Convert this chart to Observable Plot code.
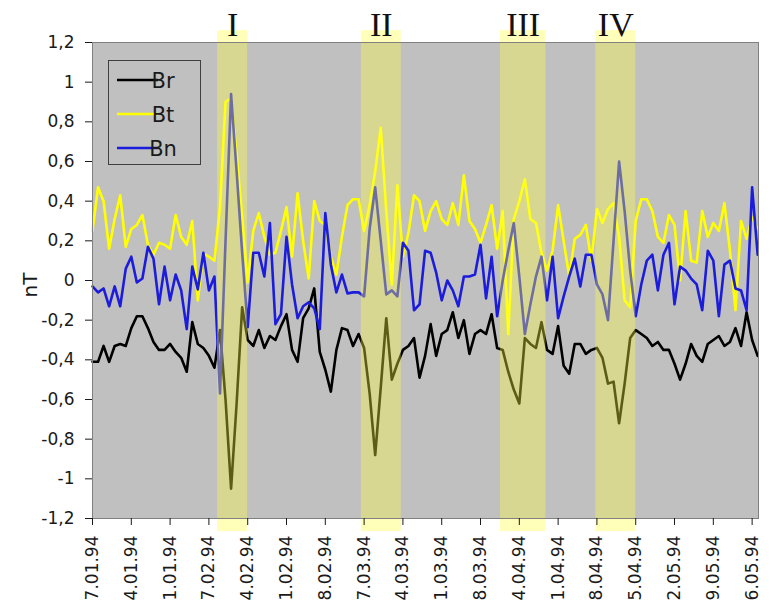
<!DOCTYPE html>
<html><head><meta charset="utf-8">
<script src="https://cdn.jsdelivr.net/npm/d3@7"></script>
<script src="https://cdn.jsdelivr.net/npm/@observablehq/plot@0.6"></script>
<style>
html,body{margin:0;padding:0;background:#fff;}
#chart{width:769px;height:606px;overflow:hidden;}
</style></head><body><div id="chart"></div>
<script>
const tickLabels = ["7.01.94","4.01.94","1.01.94","7.02.94","4.02.94","1.02.94","8.02.94","7.03.94","4.03.94","1.03.94","8.03.94","4.04.94","1.04.94","8.04.94","5.04.94","2.05.94","9.05.94","6.05.94"];
const seriesNames = ["Br", "Bt", "Bn"];
const seriesColors = ["#000000", "#ffff00", "#1c1cdc"];
const br = [-0.41,-0.41,-0.33,-0.41,-0.33,-0.32,-0.33,-0.24,-0.18,-0.18,
 -0.24,-0.31,-0.35,-0.35,-0.32,-0.36,-0.39,-0.46,-0.21,-0.32,
 -0.34,-0.38,-0.44,-0.25,-0.6,-1.05,-0.62,-0.135,-0.30,-0.33,
 -0.25,-0.34,-0.28,-0.30,-0.23,-0.17,-0.35,-0.41,-0.19,-0.14,
 -0.04,-0.36,-0.45,-0.56,-0.35,-0.24,-0.25,-0.33,-0.27,-0.34,
 -0.57,-0.88,-0.54,-0.19,-0.5,-0.42,-0.35,-0.33,-0.29,-0.49,
 -0.38,-0.22,-0.38,-0.27,-0.25,-0.16,-0.29,-0.20,-0.37,-0.27,
 -0.25,-0.27,-0.17,-0.34,-0.35,-0.46,-0.55,-0.62,-0.29,-0.32,
 -0.34,-0.21,-0.35,-0.37,-0.23,-0.43,-0.47,-0.32,-0.32,-0.37,
 -0.35,-0.34,-0.39,-0.52,-0.51,-0.72,-0.52,-0.29,-0.25,-0.27,
 -0.29,-0.33,-0.31,-0.35,-0.35,-0.42,-0.50,-0.42,-0.32,-0.38,
 -0.41,-0.32,-0.30,-0.28,-0.33,-0.31,-0.24,-0.33,-0.16,-0.30,-0.38];
const bt = [0.25,0.47,0.40,0.16,0.31,0.43,0.17,0.26,0.28,0.33,
 0.18,0.13,0.19,0.18,0.16,0.33,0.22,0.18,0.30,-0.10,
 0.135,0.12,0.10,0.37,0.90,0.92,0.64,0.32,-0.01,0.25,
 0.34,0.22,0.13,0.14,0.25,0.37,0.12,0.44,0.2,0.01,
 0.40,0.30,0.28,0.12,0.03,0.22,0.38,0.41,0.41,0.25,
 0.38,0.55,0.77,0.35,-0.02,0.48,0.12,0.24,0.43,0.40,
 0.25,0.35,0.40,0.31,0.28,0.39,0.28,0.53,0.30,0.26,
 0.19,0.28,0.38,0.16,0.35,-0.27,0.31,0.40,0.51,0.31,
 0.29,0.14,0.05,0.15,0.38,0.20,0.02,0.21,0.23,0.28,
 0.10,0.36,0.29,0.36,0.39,0.22,-0.10,-0.135,0.30,0.41,
 0.41,0.35,0.22,0.19,0.33,0.28,0.00,0.35,0.10,0.09,
 0.35,0.22,0.29,0.25,0.39,0.15,-0.15,0.30,0.21,0.32,0.26];
const bn = [-0.03,-0.06,-0.04,-0.13,-0.03,-0.13,0.06,0.12,-0.01,0.01,
 0.17,0.11,-0.12,0.07,-0.10,0.03,-0.05,-0.245,0.07,-0.045,
 0.14,-0.05,0.02,-0.57,0.2,0.94,0.55,0.14,-0.235,0.14,
 0.14,0.02,0.29,-0.22,-0.17,0.22,-0.02,-0.19,-0.13,-0.11,
 -0.14,-0.245,0.34,0.08,-0.06,0.03,-0.065,-0.06,-0.06,-0.08,
 0.26,0.47,0.2,-0.07,-0.05,-0.08,0.19,0.15,-0.15,-0.12,
 0.15,0.14,0.04,-0.10,0.0,-0.05,-0.13,0.02,0.02,0.03,
 0.18,-0.09,0.12,-0.18,0.0,0.15,0.29,0.02,-0.27,-0.12,
 0.02,0.12,-0.10,0.12,-0.19,-0.08,0.02,0.11,-0.03,0.13,
 0.13,-0.02,-0.07,-0.2,0.2,0.6,0.35,0.05,-0.18,-0.02,
 0.1,0.13,-0.05,0.13,0.19,-0.12,0.07,0.05,0.01,-0.02,
 -0.15,0.15,0.1,-0.18,0.08,0.10,-0.04,-0.05,-0.15,0.47,0.13];
const bandLabels = ["I", "II", "III", "IV"];
const bandStart = [22.56, 48.5, 73.6, 90.8];
const bandEnd = [27.98, 55.7, 81.8, 98.0];
const yTicks = [-1.2,-1,-0.8,-0.6,-0.4,-0.2,0,0.2,0.4,0.6,0.8,1,1.2];

const rows = [];
[br, bt, bn].forEach((vals, s) => vals.forEach((v, i) => rows.push({day: i, value: v, series: seriesNames[s]})));
const bands = bandLabels.map((l, i) => ({label: l, x1: bandStart[i], x2: bandEnd[i], xm: (bandStart[i] + bandEnd[i]) / 2}));
const fmt = d => String(Math.round(d * 10) / 10).replace(".", ",");

const chart = Plot.plot({
  width: 769, height: 606,
  marginLeft: 92, marginRight: 11, marginTop: 42, marginBottom: 88,
  style: {fontFamily: "DejaVu Sans", background: "#fff", color: "#1a1a1a", overflow: "visible"},
  x: {domain: [0, 120.15], axis: null},
  y: {domain: [-1.2, 1.2], axis: null},
  color: {domain: seriesNames, range: seriesColors},
  marks: [
    Plot.frame({fill: "#c0c0c0"}),
    Plot.line(rows, {x: "day", y: "value", z: "series", stroke: "series", strokeWidth: 2.6, strokeLinejoin: "round"}),
    Plot.rect(bands, {x1: "x1", x2: "x2", y1: -1.266, y2: 1.26, fill: "#ffff40", fillOpacity: 0.36}),
    Plot.frame({stroke: "#808080"}),
    Plot.axisY({ticks: yTicks, tickFormat: fmt, tickSize: 7, tickPadding: 11, fontSize: 17, label: null}),
    Plot.axisX({ticks: d3.range(0, 120, 7), tickFormat: d => tickLabels[Math.round(d / 7)], tickSize: 7, tickPadding: 10, tickRotate: -90, fontSize: 17, label: null}),
    Plot.text(bands, {x: "xm", frameAnchor: "top", text: "label", lineAnchor: "bottom", dy: -7, fontFamily: "Liberation Serif", fontSize: 34, fill: "#111"})
  ]
});
document.getElementById("chart").appendChild(chart);

const svg = d3.select(chart);
const g = svg.append("g");
g.append("rect").attr("x", 108.5).attr("y", 60.5).attr("width", 92).attr("height", 104)
  .attr("fill", "#c0c0c0").attr("stroke", "#404040").attr("stroke-width", 1);
seriesNames.forEach((n, i) => {
  const cy = 80 + i * 34;
  g.append("line").attr("x1", 117).attr("x2", 158).attr("y1", cy).attr("y2", cy)
    .attr("stroke", seriesColors[i]).attr("stroke-width", 2.6);
  g.append("text").attr("x", 163).attr("y", cy).attr("dy", "0.36em")
    .attr("font-family", "DejaVu Sans").attr("font-size", 21).attr("fill", "#1a1a1a").text(n);
});
svg.append("text").attr("transform", "translate(37,285) rotate(-90)").attr("text-anchor", "middle")
  .attr("font-family", "DejaVu Sans").attr("font-size", 20).attr("fill", "#1a1a1a").text("nT");
</script></body></html>
